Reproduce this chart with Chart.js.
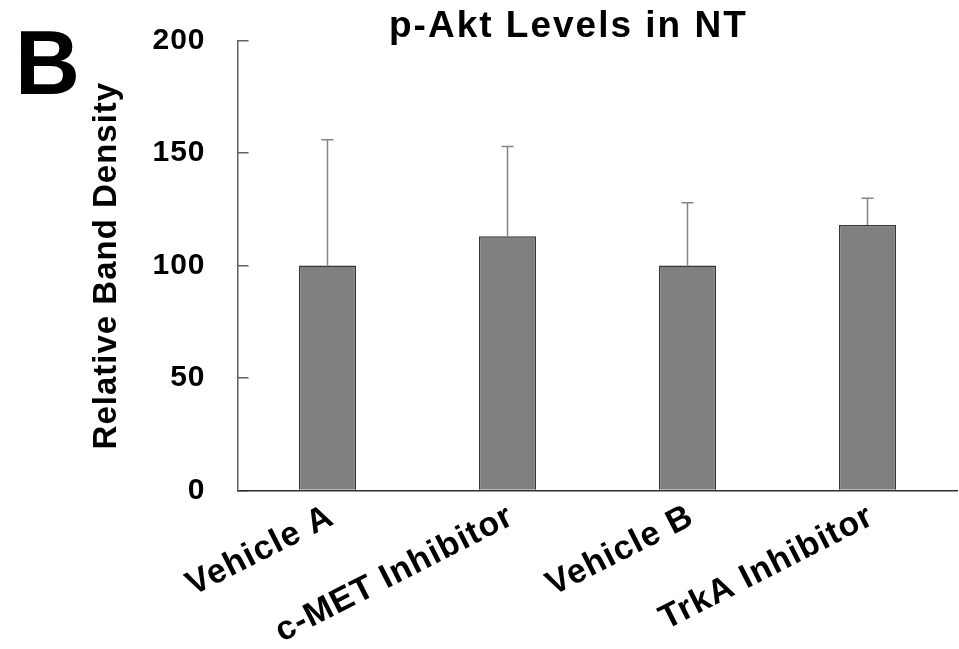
<!DOCTYPE html>
<html>
<head>
<meta charset="utf-8">
<script src="https://cdn.jsdelivr.net/npm/chart.js@4"></script>
<style>
  html, body { margin: 0; padding: 0; background: #fff; }
  canvas { display: block; }
</style>
</head>
<body>
<canvas id="c" width="959" height="649"></canvas>
<script>
// ---- data ----
const categories = ['Vehicle A', 'c-MET Inhibitor', 'Vehicle B', 'TrkA Inhibitor'];
const means = [100, 113, 100, 118];
const errors = [56, 40, 28, 12];
const yTicks = [0, 50, 100, 150, 200];
const chartTitle = 'p-Akt Levels in NT';
const panelLabel = 'B';
const yAxisTitle = 'Relative Band Density';

const FAMILY = "'Liberation Sans', Arial, Helvetica, sans-serif";
const Y_SPACING = '1px';
const X_SPACING = '1px';

const spacingPlugin = {
  id: 'spacing',
  beforeDraw(chart) { chart.ctx.letterSpacing = Y_SPACING; },
  afterDatasetsDraw(chart) { chart.ctx.letterSpacing = X_SPACING; }
};

const errorBars = {
  id: 'errorBars',
  afterDatasetsDraw(chart) {
    const ctx = chart.ctx;
    const y = chart.scales.y;
    const meta = chart.getDatasetMeta(0);
    ctx.save();
    ctx.strokeStyle = '#858585';
    ctx.lineWidth = 1.5;
    meta.data.forEach((bar, i) => {
      const base = y.getPixelForValue(means[i]);
      const top = y.getPixelForValue(means[i] + errors[i]);
      ctx.beginPath();
      ctx.moveTo(bar.x, base);
      ctx.lineTo(bar.x, top);
      ctx.moveTo(bar.x - 6, top);
      ctx.lineTo(bar.x + 6, top);
      ctx.stroke();
    });
    ctx.restore();
  }
};

const headings = {
  id: 'headings',
  afterDraw(chart) {
    const ctx = chart.ctx;
    ctx.save();
    ctx.fillStyle = '#000';
    ctx.textBaseline = 'alphabetic';
    ctx.textAlign = 'left';
    ctx.letterSpacing = '2px';
    ctx.font = 'bold 37px ' + FAMILY;
    ctx.fillText(chartTitle, 389, 36.5);
    ctx.letterSpacing = '0px';
    ctx.font = 'bold 90px ' + FAMILY;
    ctx.fillText(panelLabel, 15, 94);
    ctx.restore();
  }
};

new Chart(document.getElementById('c'), {
  type: 'bar',
  data: {
    labels: categories,
    datasets: [{
      data: means,
      backgroundColor: '#808080',
      borderColor: '#353535',
      borderWidth: 1.5,
      categoryPercentage: 1,
      barPercentage: 0.317
    }]
  },
  options: {
    responsive: false,
    animation: false,
    devicePixelRatio: 1,
    layout: { padding: { top: 40.7, right: 1.5, bottom: 0, left: 0 } },
    plugins: {
      legend: { display: false },
      tooltip: { enabled: false },
      title: { display: false }
    },
    scales: {
      x: {
        grid: { display: false, drawTicks: false, z: 0 },
        border: { display: true, color: '#303030', width: 1.5, z: 0 },
        ticks: {
          z: 1,
          autoSkip: false,
          minRotation: 27,
          maxRotation: 27,
          padding: 6,
          labelOffset: 4,
          color: '#000',
          font: { family: FAMILY, weight: 'bold', size: 34 }
        },
        afterFit(scale) {
          scale.height = 158.5;
          scale.paddingLeft = 0; scale.paddingRight = 0;
          scale.paddingTop = 0; scale.paddingBottom = 0;
        }
      },
      y: {
        min: yTicks[0],
        max: yTicks[yTicks.length - 1],
        afterBuildTicks(scale) { scale.ticks = yTicks.map(v => ({ value: v })); },
        grid: { drawOnChartArea: false, drawTicks: true, tickLength: -11, color: '#606060', lineWidth: 1.5 },
        border: { display: true, color: '#606060', width: 1.5 },
        ticks: {
          padding: 43,
          color: '#000',
          font: { family: FAMILY, weight: 'bold', size: 30 }
        },
        title: {
          display: true,
          text: yAxisTitle,
          color: '#000',
          font: { family: FAMILY, weight: 'bold', size: 33 },
          padding: { top: 87, bottom: 0 }
        },
        afterFit(scale) {
          scale.width = 237.5;
          scale.paddingLeft = 0; scale.paddingRight = 0;
          scale.paddingTop = 0; scale.paddingBottom = 0;
        }
      }
    }
  },
  plugins: [spacingPlugin, errorBars, headings]
});
</script>
</body>
</html>
